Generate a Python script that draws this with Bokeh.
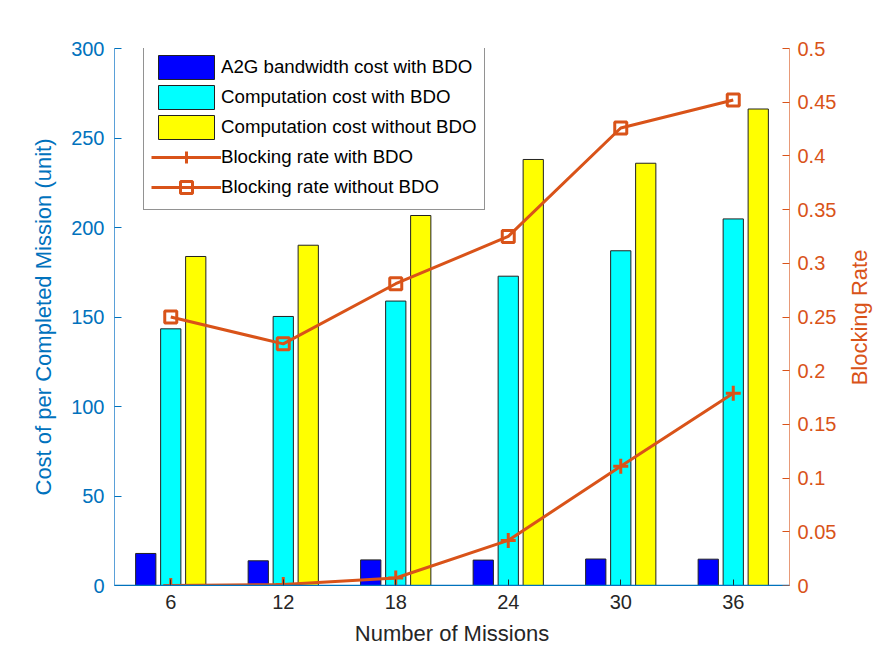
import math

from bokeh.plotting import figure
from bokeh.models import (Range1d, LinearAxis, FixedTicker, Legend, LegendItem,
                          Span, Label, PrintfTickFormatter)
from bokeh.embed import file_html
from bokeh.resources import INLINE

# Data
missions = [6, 12, 18, 24, 30, 36]
a2g_bw_cost_bdo = [17.9, 13.8, 14.3, 14.2, 14.8, 14.7]
comp_cost_bdo = [143.4, 150.3, 158.9, 172.8, 187.0, 204.8]
comp_cost_no_bdo = [183.8, 190.1, 206.7, 238.0, 235.9, 266.2]
block_rate_bdo = [0.0, 0.001, 0.007, 0.042, 0.111, 0.179]
block_rate_no_bdo = [0.25, 0.225, 0.281, 0.325, 0.426, 0.452]

cost_ticks = [0, 50, 100, 150, 200, 250, 300]
rate_ticks = [0, 0.05, 0.1, 0.15, 0.2, 0.25, 0.3, 0.35, 0.4, 0.45, 0.5]

labels = ["A2G bandwidth cost with BDO", "Computation cost with BDO",
          "Computation cost without BDO", "Blocking rate with BDO",
          "Blocking rate without BDO"]

BLUE_AX = "#0072BD"
ORANGE = "#D95319"
DARK = "#262626"
FONT = "Liberation Sans"

p = figure(width=875, height=657, output_backend="svg", toolbar_location=None,
           x_range=Range1d(3, 39), y_range=Range1d(0, 300),
           min_border_left=114, min_border_right=86,
           min_border_top=48, min_border_bottom=72)
p.extra_y_ranges = {"rate": Range1d(0, 0.5)}
p.outline_line_color = None
p.xgrid.visible = False
p.ygrid.visible = False
p.background_fill_color = "white"
p.border_fill_color = "white"

# grouped bars
offset = 1.333
bw = 1.08
r_bw = p.vbar(x=[m - offset for m in missions], top=a2g_bw_cost_bdo, width=bw,
              fill_color="#0000FF", line_color="#222222", line_width=1)
r_cb = p.vbar(x=missions, top=comp_cost_bdo, width=bw,
              fill_color="#00FFFF", line_color="#222222", line_width=1)
r_cn = p.vbar(x=[m + offset for m in missions], top=comp_cost_no_bdo, width=bw,
              fill_color="#FFFF00", line_color="#222222", line_width=1)

# bar baseline
p.add_layout(Span(location=0, dimension="width", line_color=BLUE_AX, line_width=1.5))

# blocking rate lines
l_b = p.line(missions, block_rate_bdo, y_range_name="rate", line_color=ORANGE, line_width=3)
m_b = p.scatter(missions, block_rate_bdo, y_range_name="rate", marker="cross",
                size=15, line_color=ORANGE, line_width=3)
l_n = p.line(missions, block_rate_no_bdo, y_range_name="rate", line_color=ORANGE, line_width=3)
m_n = p.scatter(missions, block_rate_no_bdo, y_range_name="rate", marker="square",
                size=12, line_color=ORANGE, fill_color=None, line_width=3)

# x axis
xa = p.xaxis[0]
xa.ticker = FixedTicker(ticks=missions)
xa.axis_label = "Number of Missions"
xa.axis_label_text_font = FONT
xa.axis_label_text_font_size = "22px"
xa.axis_label_text_font_style = "normal"
xa.axis_label_text_color = DARK
xa.axis_label_standoff = 9
xa.major_label_text_font = FONT
xa.major_label_text_font_size = "20px"
xa.major_label_text_color = DARK
xa.major_label_standoff = 9
xa.axis_line_color = BLUE_AX
xa.major_tick_line_color = DARK
xa.major_tick_in = 6
xa.major_tick_out = 0
xa.minor_tick_line_color = None

# left axis
ya = p.yaxis[0]
ya.ticker = FixedTicker(ticks=cost_ticks)
ya.axis_label = "Cost of per Completed Mission (unit)"
ya.axis_label_text_font = FONT
ya.axis_label_text_font_size = "22px"
ya.axis_label_text_font_style = "normal"
ya.axis_label_text_color = BLUE_AX
ya.axis_label_standoff = 12
ya.major_label_text_font = FONT
ya.major_label_text_font_size = "20px"
ya.major_label_text_color = BLUE_AX
ya.major_label_standoff = 10
ya.axis_line_color = "#5AA0D8"
ya.major_tick_line_color = BLUE_AX
ya.major_tick_in = 7
ya.major_tick_out = 0
ya.minor_tick_line_color = None

# right axis
yr = LinearAxis(y_range_name="rate", ticker=FixedTicker(ticks=rate_ticks),
                formatter=PrintfTickFormatter(format="%g"))
yr.major_label_text_font = FONT
yr.major_label_text_font_size = "20px"
yr.major_label_text_color = ORANGE
yr.major_label_standoff = 8
yr.axis_line_color = "#E89A78"
yr.major_tick_line_color = ORANGE
yr.major_tick_in = 7
yr.major_tick_out = 0
yr.minor_tick_line_color = None
p.add_layout(yr, "right")

# right-hand title, reading bottom-to-top, in its own side panel
p.add_layout(Label(x=20, y=268, x_units="screen", y_units="screen",
                   text="Blocking Rate", angle=math.pi / 2,
                   text_align="center", text_baseline="middle",
                   text_font=FONT, text_font_size="22px", text_color=ORANGE),
             "right")

legend = Legend(items=[
    LegendItem(label=labels[0], renderers=[r_bw]),
    LegendItem(label=labels[1], renderers=[r_cb]),
    LegendItem(label=labels[2], renderers=[r_cn]),
    LegendItem(label=labels[3], renderers=[l_b, m_b]),
    LegendItem(label=labels[4], renderers=[l_n, m_n]),
], location=(29, 375))
legend.label_text_font = FONT
legend.label_text_font_size = "18.7px"
legend.label_text_color = "black"
legend.glyph_width = 70
legend.glyph_height = 30
legend.label_height = 30
legend.label_standoff = 0
legend.spacing = 0
legend.padding = 7
legend.margin = 0
legend.border_line_color = DARK
legend.border_line_width = 1
legend.background_fill_color = "white"
legend.background_fill_alpha = 1.0
p.add_layout(legend, "center")

open("out.html", "w").write(file_html(p, INLINE))
